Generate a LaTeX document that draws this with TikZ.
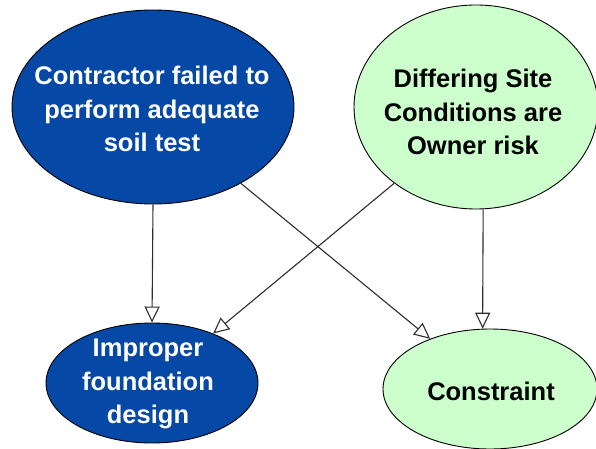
\documentclass[tikz,border=0pt]{standalone}
\usepackage{fontspec}
\setmainfont{Liberation Sans}
\usetikzlibrary{arrows.meta,shapes.geometric}
\definecolor{deepblue}{RGB}{5,72,165}
\definecolor{palegreen}{RGB}{204,255,204}
\definecolor{linkgray}{RGB}{45,45,45}
\tikzset{
  bubble/.style={ellipse, draw=black, line width=0.9pt, inner sep=0pt},
  causebox/.style={bubble, fill=deepblue},
  factbox/.style={bubble, fill=palegreen},
  caption/.style={inner sep=0pt, align=center,
    font=\fontsize{25.5}{33.5}\selectfont\bfseries},
  link/.style={draw=linkgray, line width=1.1pt,
    -{Triangle[open, length=16pt, width=15pt]}}
}
\begin{document}
\begin{tikzpicture}[x=1pt, y=-1pt]
  \useasboundingbox (0,0) rectangle (596,449);
  % the four bubbles
  \node[causebox, minimum width=282pt, minimum height=194pt] (n1) at (153,107) {};
  \node[factbox,  minimum width=244pt, minimum height=204pt] (n2) at (476,107) {};
  \node[causebox, minimum width=212pt, minimum height=120pt] (n3) at (152,383) {};
  \node[factbox,  minimum width=214pt, minimum height=120pt] (n4) at (490,389) {};
  % their captions
  \node[caption, text=white] (t1) at (152,109) {Contractor failed to\\perform adequate\\soil test};
  \node[caption, text=black] (t2) at (473,112) {Differing Site\\Conditions are\\Owner risk};
  \node[caption, text=white] (t3) at (148,384) {Improper\\foundation\\design};
  \node[caption, text=black] (t4) at (491,391) {Constraint};
  % influences
  \draw[link] (n1.-90) -- (n3.90);
  \draw[link] (n1.-41) -- (n4.140);
  \draw[link] (n2.-137) -- (n3.39);
  \draw[link] (n2.-86) -- (n4.97);
\end{tikzpicture}
\end{document}
